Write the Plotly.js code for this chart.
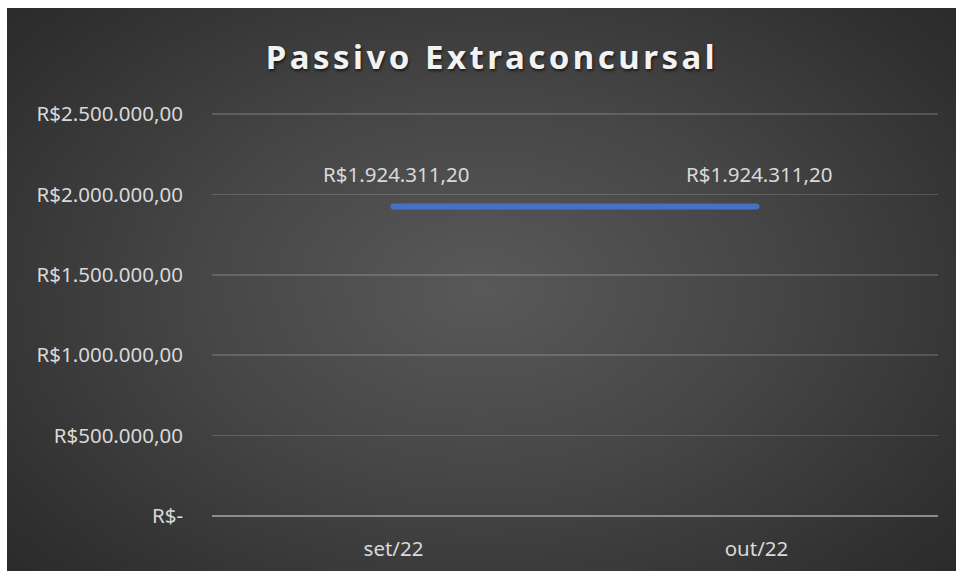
<!DOCTYPE html>
<html><head><meta charset="utf-8">
<script src="https://cdn.plot.ly/plotly-3.0.1.min.js"></script>
<style>
html,body{margin:0;padding:0;background:#fff;}
#chart{position:absolute;left:7px;top:8px;width:949px;height:563px;
background:radial-gradient(ellipse 75% 85% at 50% 50%, #595959 0%, #464646 40%, #2f2f2f 80%, #262626 100%);}
#chart .gtitle{letter-spacing:3.5px;}
#chart .js-line{stroke-linecap:round;}
</style></head><body>
<div id="chart"></div>
<script>
var categories = ["set/22", "out/22"];
var values = [1924311.20, 1924311.20];
var valueLabels = ["R$1.924.311,20", "R$1.924.311,20"];
var yTickVals = [0, 500000, 1000000, 1500000, 2000000, 2500000];
var yTickText = ["R$-", "R$500.000,00", "R$1.000.000,00", "R$1.500.000,00", "R$2.000.000,00", "R$2.500.000,00"];

var trace = {
  x: categories, y: values, type: 'scatter', mode: 'lines',
  line: {color: '#4472C4', width: 6, shape: 'linear'},
  hoverinfo: 'none'
};
var annotations = categories.map(function(c, i){
  return {x: c, y: values[i], xref: 'x', yref: 'y', text: valueLabels[i],
    showarrow: false, yshift: 33, xshift: 3,
    font: {family: 'Noto Sans, sans-serif', size: 20.5, color: '#d9d9d9'}};
});
var layout = {
  width: 949, height: 563,
  paper_bgcolor: 'rgba(0,0,0,0)', plot_bgcolor: 'rgba(0,0,0,0)',
  margin: {l: 205, r: 18, t: 104, b: 55},
  showlegend: false,
  title: {text: 'Passivo Extraconcursal', x: 0.511, xanchor: 'center', y: 0.913, yanchor: 'middle',
    font: {family: 'Noto Sans, sans-serif', size: 33, color: '#f2f2f2', weight: 'bold',
      shadow: '1px 2px 3px rgba(0,0,0,0.6)'}},
  xaxis: {type: 'category', range: [-0.5, 1.5], showgrid: false, zeroline: false,
    showline: false, ticks: '', ticklabelstandoff: 18,
    tickfont: {family: 'Noto Sans, sans-serif', size: 20.5, color: '#d9d9d9'}},
  yaxis: {range: [0, 2512000], tickvals: yTickVals, ticktext: yTickText,
    showgrid: true, gridcolor: 'rgba(255,255,255,0.16)', gridwidth: 1.5,
    zeroline: true, zerolinecolor: '#8c8c8c', zerolinewidth: 2.5,
    showline: false, ticks: '', ticklabelstandoff: 28,
    tickfont: {family: 'Noto Sans, sans-serif', size: 20.5, color: '#d9d9d9'}},
  annotations: annotations
};
Plotly.newPlot('chart', [trace], layout, {displayModeBar: false, staticPlot: true});
</script>
</body></html>
